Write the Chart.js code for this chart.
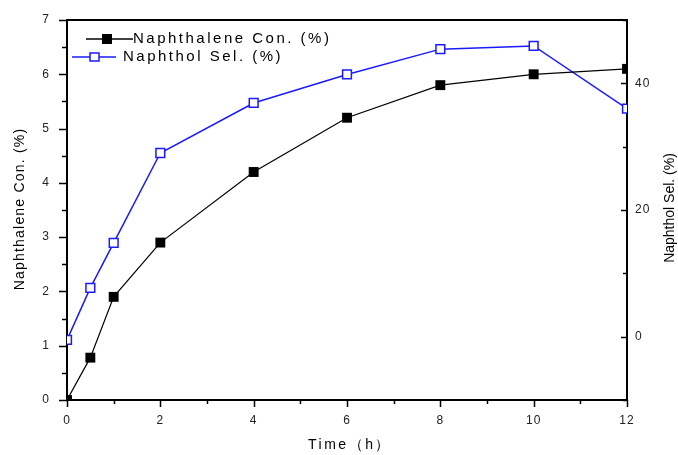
<!DOCTYPE html>
<html>
<head>
<meta charset="utf-8">
<script src="https://cdn.jsdelivr.net/npm/chart.js@4.4.0/dist/chart.umd.min.js"></script>
<style>
    html, body { margin: 0; padding: 0; background: #fff; }
    #wrap { width: 678px; height: 455px; }
</style>
</head>
<body>
<div id="wrap"><canvas id="chart"></canvas></div>
<script>
// data
const timeH = [0, 0.5, 1, 2, 4, 6, 8, 10, 12];
const naphConv = [0, 0.78, 1.9, 2.9, 4.2, 5.2, 5.8, 6.0, 6.1];
const naphtholSel = [-0.5, 7.7, 14.8, 29.0, 36.9, 41.4, 45.4, 45.9, 36.0];

const leftLabels = [0, 1, 2, 3, 4, 5, 6, 7];
const rightLabels = [0, 20, 40];
const xLabels = [0, 2, 4, 6, 8, 10, 12];

const convName = 'Naphthalene Con. (%)';
const selName = 'Naphthol Sel. (%)';
const xTitle = 'Time\uFF08h\uFF09';

const FONT = '"Liberation Sans", Arial, sans-serif';

const toPoints = (xs, ys) => xs.map((x, i) => ({ x: x, y: ys[i] }));

function tickLine(ctx, x1, y1, x2, y2) {
    ctx.beginPath();
    ctx.moveTo(x1, y1);
    ctx.lineTo(x2, y2);
    ctx.stroke();
}

// fixed box sizes so the plot area lands where the figure has it
function fitBox(size) {
    return s => {
        if (s.isHorizontal()) {
            s.height = size;
            s.paddingLeft = 0;
            s.paddingRight = 0;
        } else {
            s.width = size;
            s.paddingTop = 0;
            s.paddingBottom = 0;
        }
    };
}

const framePlugin = {
    id: 'frame',
    beforeDraw(chart) {
        chart.ctx.letterSpacing = '1px';
    },
    afterDraw(chart) {
        const ctx = chart.ctx;
        const area = chart.chartArea;
        const { x, y, y2 } = chart.scales;
        ctx.save();

        // top border
        ctx.strokeStyle = '#000';
        ctx.lineWidth = 2;
        tickLine(ctx, area.left - 1, area.top, area.right + 1, area.top);

        // ticks: major longer than minor
        ctx.lineWidth = 1.5;
        x.ticks.forEach(t => {
            const px = Math.round(x.getPixelForValue(t.value)) + 0.5;
            const len = xLabels.includes(t.value) ? 7 : 4;
            tickLine(ctx, px, area.bottom, px, area.bottom + len);
        });
        y.ticks.forEach(t => {
            const py = Math.round(y.getPixelForValue(t.value)) + 0.5;
            const len = leftLabels.includes(t.value) ? 8 : 5;
            tickLine(ctx, area.left, py, area.left - len, py);
        });
        y2.ticks.forEach(t => {
            const py = Math.round(y2.getPixelForValue(t.value)) + 0.5;
            const len = rightLabels.includes(t.value) ? 6 : 4;
            tickLine(ctx, area.right, py, area.right - len, py);
        });

        // legend
        ctx.letterSpacing = '2.5px';
        ctx.font = '15px ' + FONT;
        ctx.textBaseline = 'middle';
        ctx.fillStyle = '#000';
        ctx.strokeStyle = '#000';
        ctx.lineWidth = 1.5;
        tickLine(ctx, 86, 39, 133, 39);
        ctx.fillRect(102, 34, 10, 10);
        ctx.fillText(convName, 133, 39);

        ctx.strokeStyle = '#1a1aff';
        tickLine(ctx, 72, 57, 116, 57);
        ctx.fillStyle = '#fff';
        ctx.fillRect(90, 53, 9, 8);
        ctx.strokeRect(90, 53, 9, 8);
        ctx.fillStyle = '#000';
        ctx.fillText(selName, 123, 57);

        // axis titles
        ctx.textAlign = 'center';
        ctx.font = '14px ' + FONT;
        const midY = (area.top + area.bottom) / 2;

        ctx.letterSpacing = '1.2px';
        ctx.save();
        ctx.translate(20, midY - 1);
        ctx.rotate(-Math.PI / 2);
        ctx.fillText(convName, 0, 0);
        ctx.restore();

        ctx.letterSpacing = '0px';
        ctx.save();
        ctx.translate(670, midY - 2);
        ctx.rotate(-Math.PI / 2);
        ctx.fillText(selName, 0, 0);
        ctx.restore();

        ctx.letterSpacing = '2.5px';
        ctx.fillText(xTitle, (area.left + area.right) / 2 + 3, 445);

        ctx.restore();
    }
};

const tickFont = { family: FONT, size: 12 };

new Chart(document.getElementById('chart'), {
    type: 'scatter',
    data: {
        datasets: [
            {
                label: convName,
                data: toPoints(timeH, naphConv),
                yAxisID: 'y',
                showLine: true,
                borderColor: '#000',
                borderWidth: 1.2,
                backgroundColor: '#000',
                pointStyle: 'rect',
                pointRadius: 7,
                pointBorderWidth: 0
            },
            {
                label: selName,
                data: toPoints(timeH, naphtholSel),
                yAxisID: 'y2',
                showLine: true,
                borderColor: '#1a1aff',
                borderWidth: 1.5,
                backgroundColor: '#fff',
                pointStyle: 'rect',
                pointRadius: 6.2,
                pointBorderWidth: 1.5,
                pointBorderColor: '#1a1aff'
            }
        ]
    },
    options: {
        responsive: true,
        maintainAspectRatio: false,
        animation: false,
        layout: { padding: { top: 20, left: 0, right: 0, bottom: 0 } },
        plugins: {
            legend: { display: false },
            tooltip: { enabled: false }
        },
        scales: {
            x: {
                type: 'linear',
                min: 0,
                max: 12,
                afterFit: fitBox(55),
                ticks: {
                    stepSize: 1,
                    font: tickFont,
                    color: '#222',
                    padding: 13,
                    maxRotation: 0,
                    autoSkip: false,
                    callback: v => xLabels.includes(v) ? String(v) : ''
                },
                grid: { drawOnChartArea: false, drawTicks: false },
                border: { color: '#000', width: 2 }
            },
            y: {
                position: 'left',
                min: 0,
                max: 7,
                afterFit: fitBox(67),
                ticks: {
                    stepSize: 0.5,
                    font: tickFont,
                    color: '#222',
                    padding: 17,
                    autoSkip: false,
                    callback: v => leftLabels.includes(v) ? String(v) : ''
                },
                grid: { drawOnChartArea: false, drawTicks: false },
                border: { color: '#000', width: 2 }
            },
            y2: {
                position: 'right',
                min: -10,
                max: 50,
                afterFit: fitBox(51),
                ticks: {
                    stepSize: 10,
                    font: tickFont,
                    color: '#222',
                    padding: 8,
                    autoSkip: false,
                    callback: v => rightLabels.includes(v) ? String(v) : ''
                },
                grid: { drawOnChartArea: false, drawTicks: false },
                border: { color: '#000', width: 2 }
            }
        }
    },
    plugins: [framePlugin]
});
</script>
</body>
</html>
